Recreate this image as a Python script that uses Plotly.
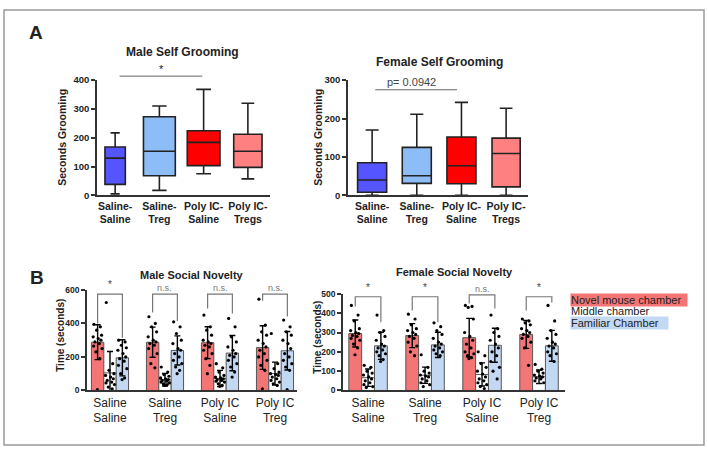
import plotly.graph_objects as go

# ---------------- data ----------------
box_groups = ["Saline-<br>Saline", "Saline-<br>Treg", "Poly IC-<br>Saline", "Poly IC-<br>Tregs"]
box_colors = ["#5555FF", "#8DBDF6", "#FF0000", "#FF8080"]

male_groom_low = [5, 17, 75, 57]
male_groom_q1 = [38, 68, 103, 97]
male_groom_med = [129, 153, 184, 153]
male_groom_q3 = [168, 273, 224, 212]
male_groom_high = [217, 310, 368, 320]

female_groom_low = [0, 0, 0, 0]
female_groom_q1 = [8, 31, 30, 22]
female_groom_med = [40, 51, 77, 109]
female_groom_q3 = [85, 125, 152, 149]
female_groom_high = [170, 211, 242, 227]

male_groom_sig_y = 414
female_groom_sig_y = 275

nov_groups = ["Saline<br>Saline", "Saline<br>Treg", "Poly IC<br>Saline", "Poly IC<br>Treg"]
chambers = ["Novel mouse chamber", "Middle chamber", "Familiar Chamber"]
chamber_colors = ["#F47575", "#FFFFFF", "#C3D9F3"]

male_novel_mean = [288, 288, 285, 256]
male_middle_mean = [105, 64, 72, 101]
male_familiar_mean = [195, 239, 223, 237]
male_novel_sd = [104, 90, 95, 130]
male_middle_sd = [128, 37, 48, 68]
male_familiar_sd = [108, 87, 105, 115]

male_novel_pts = [
    [395, 380, 360, 330, 320, 310, 300, 290, 280, 265, 250, 230, 190, 5],
    [440, 400, 380, 350, 320, 300, 290, 280, 270, 250, 220, 160, 135],
    [450, 380, 360, 330, 300, 290, 280, 270, 260, 240, 220, 190, 150, 100],
    [545, 390, 350, 330, 300, 280, 260, 240, 220, 200, 180, 150, 120, 10],
]
male_middle_pts = [
    [525, 160, 120, 100, 90, 80, 70, 60, 50, 45, 35, 20, 10],
    [140, 110, 95, 85, 75, 70, 65, 60, 55, 50, 45, 40, 35, 30],
    [160, 135, 110, 90, 80, 75, 70, 65, 60, 55, 50, 40, 30, 25],
    [340, 160, 130, 110, 100, 95, 90, 80, 70, 60, 50, 40, 30],
]
male_familiar_pts = [
    [300, 290, 270, 255, 240, 220, 200, 190, 175, 150, 130, 100, 75, 65],
    [410, 380, 340, 300, 280, 250, 240, 220, 200, 180, 160, 140, 120, 100],
    [430, 380, 320, 290, 260, 240, 220, 210, 200, 180, 160, 140, 110, 80],
    [420, 380, 350, 330, 300, 280, 250, 220, 200, 180, 160, 140, 120, 5],
]

female_novel_mean = [295, 284, 273, 290]
female_middle_mean = [66, 79, 83, 71]
female_familiar_mean = [231, 236, 234, 231]
female_novel_sd = [70, 62, 100, 72]
female_middle_sd = [45, 42, 60, 35]
female_familiar_sd = [70, 65, 88, 80]

female_novel_pts = [
    [440, 390, 360, 320, 310, 300, 295, 285, 280, 270, 260, 240, 220, 185],
    [395, 370, 340, 320, 310, 300, 290, 280, 270, 250, 230, 200, 180],
    [440, 435, 430, 370, 300, 280, 260, 240, 220, 200, 190, 180, 170, 165],
    [370, 360, 350, 340, 320, 310, 300, 290, 280, 270, 250, 220, 130],
]
female_middle_pts = [
    [130, 120, 100, 90, 80, 70, 60, 50, 40, 30, 20, 15],
    [185, 120, 100, 90, 80, 75, 70, 60, 50, 40, 30, 20],
    [200, 180, 140, 120, 100, 85, 70, 60, 50, 40, 30, 20, 10],
    [135, 110, 100, 90, 80, 75, 70, 65, 60, 50, 40],
]
female_familiar_pts = [
    [390, 310, 300, 280, 260, 240, 230, 220, 210, 200, 190, 180, 160, 150],
    [350, 330, 310, 290, 270, 250, 240, 230, 220, 210, 200, 190, 180],
    [390, 320, 300, 280, 260, 240, 220, 200, 180, 150, 120, 100, 60],
    [440, 360, 310, 290, 270, 250, 240, 230, 220, 200, 190, 180, 150],
]

male_br_top = [575, 575, 575, 575]
male_br_left = [400, 465, 489, 535]
male_br_right = [315, 415, 460, 441]
male_sig = ["*", "n.s.", "n.s.", "n.s."]

female_br_top = [485, 485, 495, 485]
female_br_left = [434, 414, 450, 414]
female_br_right = [353, 353, 424, 455]
female_sig = ["*", "*", "n.s.", "*"]

# ---------------- styling helpers ----------------
W, H = 708, 455
FONT = "Liberation Sans, Arial, sans-serif"
INK = "#222222"


def px(x):
    return x / W


def py(y):
    return 1 - y / H


JITTER = [-0.30, 0.22, -0.08, 0.32, -0.36, 0.05, 0.27, -0.22, 0.14, -0.32, 0.36, -0.14, 0.18, -0.02]
BW = 0.225
OFFSETS = [-BW, 0.0, BW]

fig = go.Figure()

# ---------------- box plots ----------------
male_box_widths = [0.46, 0.72, 0.74, 0.64]
female_box_widths = [0.65, 0.65, 0.65, 0.63]


def add_boxes(xa, ya, low, q1, med, q3, high, widths):
    for i in range(4):
        fig.add_trace(go.Box(
            x=[i], q1=[q1[i]], median=[med[i]], q3=[q3[i]],
            lowerfence=[low[i]], upperfence=[high[i]],
            fillcolor=box_colors[i], line=dict(color=INK, width=1.6),
            width=widths[i], whiskerwidth=0.45, boxpoints=False,
            xaxis=xa, yaxis=ya, showlegend=False, hoverinfo="skip"))


add_boxes("x", "y", male_groom_low, male_groom_q1, male_groom_med, male_groom_q3, male_groom_high, male_box_widths)
add_boxes("x2", "y2", female_groom_low, female_groom_q1, female_groom_med, female_groom_q3, female_groom_high, female_box_widths)

# ---------------- bar charts ----------------


def add_bars(xa, ya, means, sds, pts):
    for c in range(3):
        xs = [i + OFFSETS[c] for i in range(4)]
        fig.add_trace(go.Bar(
            x=xs, y=means[c], width=BW, marker=dict(color=chamber_colors[c], line=dict(color="#555", width=1)),
            error_y=dict(type="data", array=sds[c], visible=True, color="black", thickness=1.4, width=3),
            xaxis=xa, yaxis=ya, showlegend=False, hoverinfo="skip"))
    for c in range(3):
        dx, dy = [], []
        for i in range(4):
            for k, v in enumerate(pts[c][i]):
                dx.append(i + OFFSETS[c] + JITTER[k % len(JITTER)] * BW)
                dy.append(v)
        fig.add_trace(go.Scatter(
            x=dx, y=dy, mode="markers", marker=dict(color="black", size=3.2),
            xaxis=xa, yaxis=ya, showlegend=False, hoverinfo="skip", cliponaxis=False))


add_bars("x3", "y3",
         [male_novel_mean, male_middle_mean, male_familiar_mean],
         [male_novel_sd, male_middle_sd, male_familiar_sd],
         [male_novel_pts, male_middle_pts, male_familiar_pts])
add_bars("x4", "y4",
         [female_novel_mean, female_middle_mean, female_familiar_mean],
         [female_novel_sd, female_middle_sd, female_familiar_sd],
         [female_novel_pts, female_middle_pts, female_familiar_pts])

# ---------------- axes ----------------
axis_line = dict(showline=True, linecolor="#333", linewidth=1.5, showgrid=False, zeroline=False,
                 mirror=False, fixedrange=True)


def ytick(size):
    return dict(ticks="outside", ticklen=4, tickwidth=1.5, tickcolor="#333",
                tickfont=dict(family=FONT, size=size, color=INK, weight="bold"))


box_ydom = [py(194), py(76)]
bar_ydom_m = [py(394), py(291)]
bar_ydom_f = [py(394), py(295)]

fig.update_layout(
    xaxis=dict(domain=[px(97), px(270)], range=[-0.41, 3.5], anchor="y", tickvals=list(range(4)),
               ticktext=box_groups, ticks="", tickfont=dict(family=FONT, size=10.5, color=INK, weight="bold"),
               **axis_line),
    yaxis=dict(domain=box_ydom, range=[0, 400], anchor="x", tickvals=[0, 100, 200, 300, 400], **ytick(9.5),
               **axis_line),
    xaxis2=dict(domain=[px(348), px(528)], range=[-0.54, 3.49], anchor="y2", tickvals=list(range(4)),
                ticktext=box_groups, ticks="", tickfont=dict(family=FONT, size=10.5, color=INK, weight="bold"),
                **axis_line),
    yaxis2=dict(domain=box_ydom, range=[0, 300], anchor="x2", tickvals=[0, 100, 200, 300], **ytick(9.5),
                **axis_line),
    xaxis3=dict(domain=[px(87), px(297)], range=[-0.418, 3.4], anchor="y3", tickvals=list(range(4)),
                ticktext=nov_groups, ticks="", tickfont=dict(family=FONT, size=12, color=INK), **axis_line),
    yaxis3=dict(domain=bar_ydom_m, range=[0, 600], anchor="x3", tickvals=[0, 200, 400, 600], **ytick(8.5),
                **axis_line),
    xaxis4=dict(domain=[px(343), px(565)], range=[-0.44, 3.456], anchor="y4", tickvals=list(range(4)),
                ticktext=nov_groups, ticks="", tickfont=dict(family=FONT, size=12, color=INK), **axis_line),
    yaxis4=dict(domain=bar_ydom_f, range=[0, 500], anchor="x4", tickvals=[0, 100, 200, 300, 400, 500],
                **ytick(8.5), **axis_line),
)

shapes = []
annotations = []

# border
shapes.append(dict(type="rect", xref="paper", yref="paper", x0=px(4), x1=px(704), y0=py(450), y1=py(4),
                   line=dict(color="#9a9a9a", width=1.5), fillcolor="rgba(0,0,0,0)", layer="below"))

# significance line (male grooming) – above axis top, use domain units
male_top = 400
shapes.append(dict(type="line", xref="x", yref="y domain", x0=0.1, x1=1.97,
                   y0=male_groom_sig_y / male_top, y1=male_groom_sig_y / male_top,
                   line=dict(color="#666", width=1)))
annotations.append(dict(xref="x", yref="y domain", x=1.05, y=male_groom_sig_y / male_top, text="*",
                        showarrow=False, yanchor="bottom", yshift=-1,
                        font=dict(family=FONT, size=11, color=INK)))
shapes.append(dict(type="line", xref="x2", yref="y2", x0=0.07, x1=1.9,
                   y0=female_groom_sig_y, y1=female_groom_sig_y, line=dict(color="#666", width=1)))
annotations.append(dict(xref="x2", yref="y2", x=0.88, y=female_groom_sig_y, text="p= 0.0942", showarrow=False,
                        yanchor="bottom", yshift=0, font=dict(family=FONT, size=11, color="#444")))


# bar brackets
def add_brackets(xa, ya, top, left, right, sig):
    for i in range(4):
        x0 = i + OFFSETS[0]
        x1 = i + OFFSETS[2]
        shapes.append(dict(type="path", xref=xa, yref=ya,
                           path=f"M {x0},{left[i]} L {x0},{top[i]} L {x1},{top[i]} L {x1},{right[i]}",
                           line=dict(color="#777", width=1.2)))
        is_star = sig[i] == "*"
        annotations.append(dict(xref=xa, yref=ya, x=i, y=top[i], text=sig[i], showarrow=False,
                                yanchor="bottom", yshift=2 if is_star else -1,
                                font=dict(family=FONT, size=10 if is_star else 9,
                                          color="#444" if is_star else "#777")))


add_brackets("x3", "y3", male_br_top, male_br_left, male_br_right, male_sig)
add_brackets("x4", "y4", female_br_top, female_br_left, female_br_right, female_sig)


def text(x, y, s, size, bold=False, angle=0, color=INK, xanchor="center"):
    annotations.append(dict(xref="paper", yref="paper", x=px(x), y=py(y), text=s, showarrow=False,
                            xanchor=xanchor, yanchor="middle", textangle=angle,
                            font=dict(family=FONT, size=size, color=color, weight="bold" if bold else "normal")))


text(36, 27, "A", 19, bold=True)
text(37, 278, "B", 19, bold=True)
text(182, 47, "Male Self Grooming", 12, bold=True)
text(439, 57, "Female Self Grooming", 12, bold=True)
text(62, 135, "Seconds Grooming", 10.5, bold=True, angle=-90)
text(318, 135, "Seconds Grooming", 10.5, bold=True, angle=-90)
text(192, 276, "Male Social Novelty", 11, bold=True)
text(454, 273, "Female Social Novelty", 11, bold=True)
text(61, 338, "Time (seconds)", 10, bold=True, angle=-90)
text(318, 340, "Time (seconds)", 10, bold=True, angle=-90)

# legend (coloured text boxes)
legend_y = [301, 313, 325]
legend_w = [116, 90, 97]
for i, name in enumerate(chambers):
    annotations.append(dict(xref="paper", yref="paper", x=px(570), y=py(legend_y[i]), text=name,
                            showarrow=False, xanchor="left", yanchor="middle", align="left",
                            width=legend_w[i], height=12,
                            bgcolor=chamber_colors[i] if i != 1 else "rgba(0,0,0,0)",
                            borderpad=0, font=dict(family=FONT, size=11, color=INK)))

fig.update_layout(
    width=W, height=H, margin=dict(l=0, r=0, t=0, b=0),
    paper_bgcolor="white", plot_bgcolor="white",
    barmode="overlay", boxmode="overlay", showlegend=False,
    shapes=shapes, annotations=annotations,
    font=dict(family=FONT, color=INK),
)

fig.write_html("out.html")
